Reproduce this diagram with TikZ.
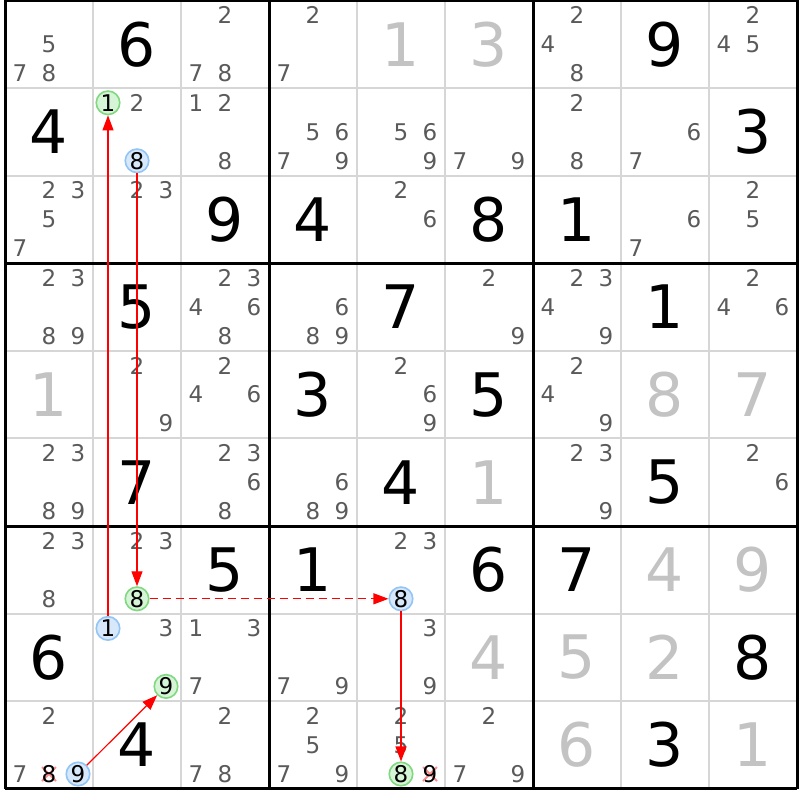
\documentclass[tikz,border=0pt]{standalone}
\usepackage{fontspec}
\setmainfont{DejaVu Sans}
\usetikzlibrary{arrows.meta}
\definecolor{candgray}{HTML}{5A5A5A}
\definecolor{solvedgray}{HTML}{C3C3C3}
\definecolor{thingrid}{HTML}{D6D6D6}
\definecolor{gfill}{HTML}{D6F5D6}
\definecolor{gdraw}{HTML}{80D880}
\definecolor{bfill}{HTML}{D6E8FA}
\definecolor{bdraw}{HTML}{92C5F5}
\definecolor{xmark}{HTML}{FF8C8C}
\tikzset{
  cand/.style={inner sep=0pt, text=candgray, font=\fontsize{23}{23}\selectfont},
  given/.style={inner sep=0pt, text=black, font=\fontsize{60}{60}\selectfont},
  solved/.style={inner sep=0pt, text=solvedgray, font=\fontsize{60}{60}\selectfont},
  gcirc/.style={circle, inner sep=0pt, minimum size=23.5pt, fill=gfill, draw=gdraw, line width=1.6pt, text=black, font=\fontsize{23}{23}\selectfont},
  bcirc/.style={circle, inner sep=0pt, minimum size=23.5pt, fill=bfill, draw=bdraw, line width=1.6pt, text=black, font=\fontsize{23}{23}\selectfont},
  elim/.style={inner sep=0pt, text=black, font=\fontsize{23}{23}\selectfont},
  link/.style={red, line width=1.2pt, -{Triangle[length=15pt,width=11pt]}},
  weaklink/.style={link, dash pattern=on 8pt off 5pt},
  xline/.style={xmark, line width=2pt}
}
\begin{document}
\begin{tikzpicture}[x=1pt,y=-1pt]
\useasboundingbox (0,0) rectangle (800,800);
\fill[white] (0,0) rectangle (800,800);
% thin grid
\foreach \i in {1,2,4,5,7,8} {
  \draw[thingrid, line width=2pt] ({5+88*\i},0.4) -- ({5+88*\i},788.8);
  \draw[thingrid, line width=2pt] (5,{0.4+87.6*\i}) -- (797,{0.4+87.6*\i});
}
% thick grid
\foreach \i in {0,3,6,9} {
  \draw[black, line width=3pt] ({5+88*\i},0.4) -- ({5+88*\i},788.8);
  \draw[black, line width=3pt] (5,{0.4+87.6*\i}) -- (797,{0.4+87.6*\i});
}
% given digits
\foreach \r/\c/\d in {0/1/6,0/7/9,1/0/4,1/8/3,2/2/9,2/3/4,2/5/8,2/6/1,3/1/5,3/4/7,3/7/1,4/3/3,4/5/5,5/1/7,5/4/4,5/7/5,6/2/5,6/3/1,6/5/6,6/6/7,7/0/6,7/8/8,8/1/4,8/7/3}
  \node[given] (g\r\c) at ({49+88*\c},{44.2+87.6*\r}) {\d};
% solved digits
\foreach \r/\c/\d in {0/4/1,0/5/3,4/0/1,4/7/8,4/8/7,5/5/1,6/7/4,6/8/9,7/5/4,7/6/5,7/7/2,8/6/6,8/8/1}
  \node[solved] (s\r\c) at ({49+88*\c},{44.2+87.6*\r}) {\d};
% candidates
\foreach \r/\c/\l in {0/0/{5,7,8},0/2/{2,7,8},0/3/{2,7},0/6/{2,4,8},0/8/{2,4,5},
  1/1/{2},1/2/{1,2,8},1/3/{5,6,7,9},1/4/{5,6,9},1/5/{7,9},1/6/{2,8},1/7/{6,7},
  2/0/{2,3,5,7},2/1/{2,3},2/4/{2,6},2/7/{6,7},2/8/{2,5},
  3/0/{2,3,8,9},3/2/{2,3,4,6,8},3/3/{6,8,9},3/5/{2,9},3/6/{2,3,4,9},3/8/{2,4,6},
  4/1/{2,9},4/2/{2,4,6},4/4/{2,6,9},4/6/{2,4,9},
  5/0/{2,3,8,9},5/2/{2,3,6,8},5/3/{6,8,9},5/6/{2,3,9},5/8/{2,6},
  6/0/{2,3,8},6/1/{2,3},6/4/{2,3},
  7/1/{3},7/2/{1,3,7},7/3/{7,9},7/4/{3,9},
  8/0/{2,7},8/2/{2,7,8},8/3/{2,5,7,9},8/4/{2,5},8/5/{2,7,9}} {
  \foreach \d in \l {
    \pgfmathtruncatemacro\cc{mod(\d-1,3)-1}
    \pgfmathtruncatemacro\rr{floor((\d-1)/3)-1}
    \node[cand] (k\r\c\d) at ({49+88*\c+29*\cc},{44.2+87.6*\r+29*\rr}) {\d};
  }
}
% eliminated candidates
\draw[xline] (42,767) -- (56,781) (42,781) -- (56,767);
\node[elim] (x808) at (49,774) {8};
\draw[xline] (423,767) -- (437,781) (423,781) -- (437,767);
\node[elim] (x849) at (430,774) {9};
% highlighted candidates
\node[gcirc] (g1a) at (108,102.8) {1};
\node[bcirc] (b8a) at (137,160.8) {8};
\node[gcirc] (g8a) at (137,598.8) {8};
\node[bcirc] (b8b) at (401,598.8) {8};
\node[bcirc] (b1a) at (108,628.4) {1};
\node[gcirc] (g9a) at (166,686.4) {9};
\node[bcirc] (b9a) at (78,774) {9};
\node[gcirc] (g8b) at (401,774) {8};
% links
\draw[link] (b1a) -- (g1a);
\draw[link] (b8a) -- (g8a);
\draw[weaklink] (g8a) -- (b8b);
\draw[link] (b8b) -- (g8b);
\draw[link] (b9a) -- (g9a);
\end{tikzpicture}
\end{document}
